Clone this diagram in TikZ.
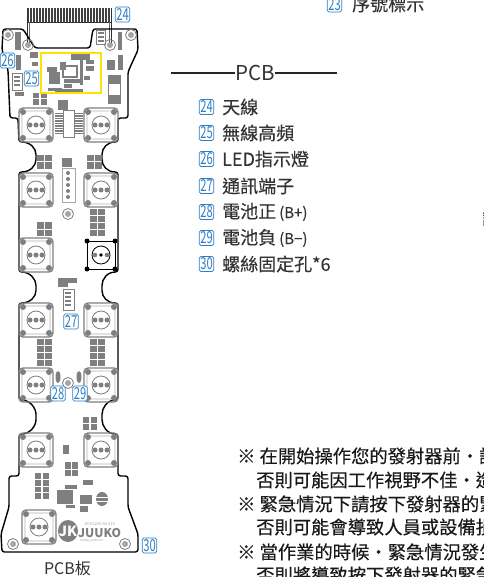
\documentclass[tikz,border=0pt]{standalone}
\usepackage{fontspec}
\setmainfont{Noto Sans CJK TC}
\newfontfamily\medfont{Noto Sans CJK TC}[FakeBold=0.25]
\usetikzlibrary{calc}
\definecolor{pcbgray}{HTML}{7F7F7F}
\definecolor{silk}{HTML}{A6A6A6}
\definecolor{ink}{HTML}{333333}
\definecolor{badgeblue}{HTML}{2F7FC4}
\newcommand{\btn}[3][pcbgray]{%
  \draw[#1,line width=1.4pt,rounded corners=4pt] (#2-17,#3-17) rectangle (#2+17,#3+17);
  \draw[#1!60,line width=.8pt,rounded corners=3pt] (#2-14,#3-14) rectangle (#2+14,#3+14);
  \foreach \dx in {-13,13} \foreach \dy in {-13,13} \fill[#1] (#2+\dx,#3+\dy) circle (3);
  \draw[#1,line width=.8pt] (#2,#3) circle (9);
  \foreach \dx in {-6,0,6} \fill[#1] (#2+\dx,#3) circle (2.5);
}
% rows of double pads: x y width rowheight rows
\newcommand{\padrows}[5]{%
  \foreach \r in {1,...,#5} {
    \fill[pcbgray] (#1,#2+\r*#4-#4) rectangle (#1+#3*.45,#2+\r*#4-1);
    \fill[pcbgray] (#1+#3*.55,#2+\r*#4-#4) rectangle (#1+#3,#2+\r*#4-1);
  }
}
\newcommand{\blk}[4]{\fill[pcbgray] (#1,#2) rectangle (#3,#4);}
\newcommand{\hole}[2]{%
  \draw[pcbgray,line width=.8pt] (#1,#2) circle (5.5);
  \fill[pcbgray!70] (#1,#2) circle (3);
}
\tikzset{
  outline/.style={draw=black,line width=1.4pt,line join=round},
  legendtext/.style={anchor=west,inner sep=0pt,text=ink,font=\medfont\fontsize{18}{20}\selectfont},
  notetext/.style={anchor=west,inner sep=0pt,text=black!90,font=\medfont\fontsize{18.3}{20}\selectfont},
  badge/.style={draw=badgeblue,fill=white,rounded corners=1.6pt,line width=.7pt,
    minimum width=14.5pt,minimum height=15pt,inner sep=0pt,text=badgeblue,
    font=\fontsize{16.5}{16}\selectfont},
}
\newcommand{\num}[1]{\scalebox{.68}[1]{#1}}
\begin{document}
\begin{tikzpicture}[x=1pt,y=-1pt]
\useasboundingbox (0,0) rectangle (483,577);
\fill[white] (0,0) rectangle (483,577);
% antenna
\foreach \x in {27,28.5,...,111} \draw[black!75,line width=.55pt] (\x,8) -- (\x,22);
\draw[black!80,line width=.8pt] (27,22) -- (111,22);
\draw[black!80,line width=.8pt] (27,8) -- (27,45) (111,8) -- (111,45);
\draw[black!60,line width=.6pt] (29,22) -- (29,45) (109,22) -- (109,45);
% board outline
\draw[outline,rounded corners=2.5pt]
  (3,29) -- (23,29) -- (35,48) -- (90,48) -- (93,29) -- (137,29) -- (138,50) -- (132,63)
  -- (128,72) -- (128,118) -- (118,118) -- (118,142)
  .. controls (107,142) and (102,148) .. (102,157) .. controls (102,166) and (107,172) .. (118,172)
  -- (118,272) .. controls (107,272) and (102,279) .. (102,288) .. controls (102,297) and (107,303) .. (118,303)
  -- (118,400) .. controls (107,400) and (102,408) .. (102,417) .. controls (102,426) and (107,434) .. (118,434)
  -- (118,476) -- (128,476) -- (128,507) -- (138,534) -- (138,552) -- (2,552) -- (1,534) -- (9,507) -- (9,476) -- (19,476)
  -- (19,434) .. controls (30,434) and (36,426) .. (36,417) .. controls (36,408) and (30,400) .. (19,400)
  -- (19,303) .. controls (30,303) and (36,297) .. (36,288) .. controls (36,279) and (30,272) .. (19,272)
  -- (19,172) .. controls (30,172) and (36,166) .. (36,157) .. controls (36,148) and (30,142) .. (19,142)
  -- (18,118) -- (10,118) -- (8,70) -- (2,50) -- cycle;
% mounting holes
\hole{8}{35}\hole{131}{35}\hole{13}{544}\hole{125}{544}\hole{68}{214}\hole{68}{383}\hole{28}{45}\hole{110}{45}
% buttons
\foreach \yy in {125,190,320,385,450} {\btn{36}{\yy}\btn{101}{\yy}}
\btn{36}{255}
\btn{39}{527}
% highlighted black button
\draw[black,line width=1pt] (87,241) rectangle (115,269);
\foreach \dx in {-14,14} \foreach \dy in {-14,14} \fill[black] (101+\dx,255+\dy) circle (2.5);
\draw[black,line width=.8pt] (101,255) circle (9);
\foreach \dx in {-6,6} \fill[pcbgray] (101+\dx,255) circle (2.3);
\fill[black] (101,255) circle (1.8);
% top left parts
\blk{15}{32}{21}{50}\blk{16}{55}{21}{70}
\draw[pcbgray,line width=.7pt] (12,73) rectangle (22,90);
\foreach \yy in {76,80,84} \fill[pcbgray] (14,\yy) rectangle (20,\yy+2.5);
\blk{15}{92}{24}{96}
\padrows{33}{93}{14}{6.5}{2}
\blk{30}{52}{38}{58}\blk{32}{62}{38}{66}
% top right parts
\draw[pcbgray,line width=.7pt] (96,30) rectangle (105,44);
\foreach \yy in {32,36,40} \fill[pcbgray] (98,\yy) rectangle (104,\yy+2.5);
\blk{118}{32}{122}{50}\blk{118}{55}{123}{70}\blk{107}{60}{115}{70}
\draw[pcbgray,line width=.7pt] (108,75) rectangle (120,103);
\blk{108}{76}{120}{84}\blk{108}{95}{120}{103}
% RF section
\blk{47}{67}{57}{72}\blk{49}{72}{60}{84}\blk{60}{62}{66}{70}
\draw[pcbgray,line width=1.5pt] (63,66) rectangle (77,77);
\blk{64}{79}{80}{83}\blk{71}{54}{90}{60}\blk{80}{60}{83}{85}\blk{86}{60}{94}{64}\blk{86}{66}{94}{71}\blk{84}{76}{90}{80}
\blk{48}{88}{62}{91}\blk{55}{89}{83}{92}\blk{64}{84}{72}{88}
% IC area
\blk{58}{100}{68}{110}
\draw[pcbgray,line width=.8pt] (63,110) rectangle (74,137);
\foreach \yy in {113,115.5,...,135} {\fill[pcbgray] (55,\yy) rectangle (63,\yy+1.4);\fill[pcbgray] (74,\yy) rectangle (83,\yy+1.4);}
% row 2 parts
\padrows{37}{155}{15}{7.5}{2}
\padrows{87}{155}{15}{7.5}{2}
\blk{62}{158}{72}{167}
\draw[silk,line width=.7pt] (62,168) rectangle (75,202);
\foreach \yy in {173,179,...,197} \fill[pcbgray] (68,\yy) circle (2);
\padrows{90}{209}{15}{7}{4}
\padrows{37}{222}{15}{7.5}{2}
% mid parts
\blk{58}{278}{68}{287}\blk{68}{278}{77}{283}
\draw[pcbgray,line width=.7pt] (63,289) rectangle (74,310);
\foreach \yy in {292,296,...,306} \fill[pcbgray] (65,\yy) rectangle (71,\yy+2.4);
\padrows{37}{339}{14.5}{7}{4}
\padrows{90}{339}{15}{7}{4}
\fill[pcbgray] (58,377) ellipse (2.5 and 6);
\fill[pcbgray] (79,377) ellipse (2.5 and 6);
% lower parts
\padrows{83}{417}{14}{7}{2}
\blk{63}{445}{69}{454}
\padrows{65}{462}{13}{7.5}{2}
\padrows{35}{473}{14}{6.8}{4}
\blk{57}{490}{73}{504}\blk{66}{505}{75}{508}\blk{65}{485}{77}{489}
\blk{80}{495}{92}{504}\blk{80}{506}{88}{512}\blk{83}{480}{93}{485}
\fill[pcbgray] (102,499) ellipse (6 and 7);
\draw[white,line width=.8pt] (96,497) -- (108,497) (96,501) -- (108,501);
% logo
\fill[pcbgray] (68,531) ellipse (10 and 11);
\node[inner sep=0pt,text=white,font=\bfseries\fontsize{14}{14}\selectfont] (logoj) at (68,531) {JK};
\node[inner sep=0pt,anchor=west,text=pcbgray,font=\bfseries\fontsize{12}{13}\selectfont] (logojuuko) at (78,533) {JUUKO};
\node[inner sep=0pt,anchor=west,text=silk,font=\fontsize{3.5}{4}\selectfont] (logoweb) at (80,541) {www.juuko.cn};
\node[inner sep=0pt,anchor=west,text=silk,font=\fontsize{4}{4}\selectfont] (version) at (84,524) {JK-K1200 A4 V15};
% yellow highlight
\draw[draw=yellow!85!orange,line width=1.5pt] (41,53) rectangle (101,93);
% board badges
\node[badge] (b24) at (122.5,14.5) {\num{24}};
\node[badge] (b26) at (7.5,60.5) {\num{26}};
\node[badge] (b25) at (31.5,78.5) {\num{25}};
\node[badge] (b27) at (71,321.5) {\num{27}};
\node[badge] (b28) at (58,393.5) {\num{28}};
\node[badge] (b29) at (80,393.5) {\num{29}};
\node[badge] (b30) at (149.5,545.5) {\num{30}};
% caption
\node[inner sep=0pt,text=ink,font=\fontsize{16}{18}\selectfont] (cap) at (67.5,568) {PCB板};
% top label
\node[badge] (b23) at (334.5,4.5) {\num{23}};
\node[legendtext] (t23) at (352,4) {序號標示};
% title
\node[inner sep=0pt,text=ink,font=\fontsize{20.5}{22}\selectfont] (pcb) at (255,73) {PCB};
\coordinate (tl) at (171,73);
\coordinate (tr) at (337,73);
\draw[black!85,line width=1.8pt] (tl) -- (pcb.west |- tl);
\draw[black!85,line width=1.8pt] (pcb.east |- tr) -- (tr);
% legend
\foreach \nm/\yy/\txt in {24/107/天線,25/133/無線高頻,26/159/LED指示燈,27/186/通訊端子,28/212/電池正\,{\fontsize{15}{16}\selectfont(B+)},29/238/電池負\,{\fontsize{15}{16}\selectfont(B−)},30/264/螺絲固定孔*6}{
  \node[badge] (lb\nm) at (206.5,\yy) {\num{\nm}};
  \node[legendtext] (lt\nm) at (222,\yy) {\txt};
}
% notes, running off the page
\node[notetext] (n1) at (237,456) {※ 在開始操作您的發射器前‧請};
\node[notetext] (n2) at (256,480) {否則可能因工作視野不佳‧造};
\node[notetext] (n3) at (237,504) {※ 緊急情況下請按下發射器的緊};
\node[notetext] (n4) at (256,527) {否則可能會導致人員或設備損};
\node[notetext] (n5) at (237,552) {※ 當作業的時候‧緊急情況發生};
\node[notetext] (n6) at (256,575) {否則將導致按下發射器的緊急};
\node[notetext] (n7) at (482,218) {請};
\end{tikzpicture}
\end{document}
